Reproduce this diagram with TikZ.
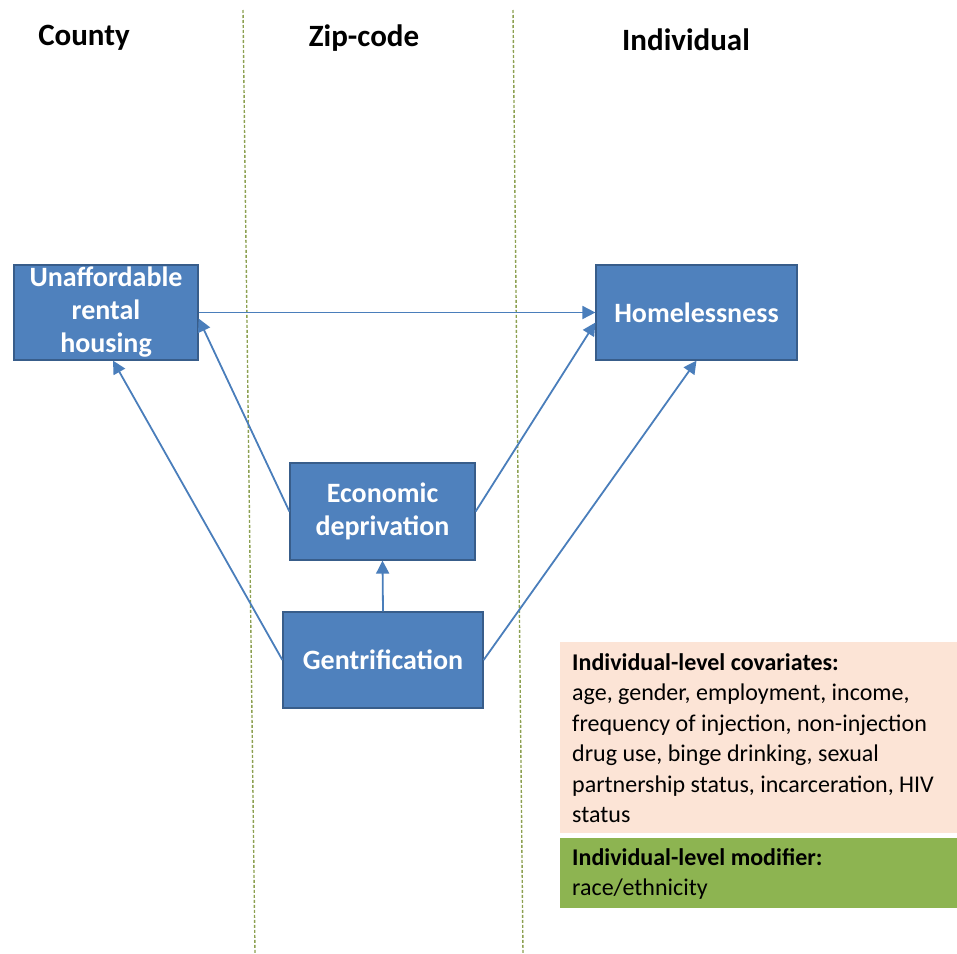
\documentclass[tikz,border=0pt]{standalone}
\usepackage{fontspec}
\setmainfont{Carlito}
\usetikzlibrary{arrows.meta}
\definecolor{boxblue}{RGB}{79,129,189}
\definecolor{boxedge}{RGB}{56,93,138}
\definecolor{arrowblue}{RGB}{74,126,187}
\definecolor{peach}{RGB}{252,228,214}
\definecolor{leaf}{RGB}{141,180,81}
\definecolor{divider}{RGB}{140,160,80}
\tikzset{
  bluebox/.style={draw=boxedge, line width=1.2pt, fill=boxblue, text=white,
    font=\fontsize{28}{33}\selectfont\bfseries, align=center, inner sep=0pt},
  header/.style={font=\fontsize{31}{34}\selectfont\bfseries, text=black},
  link/.style={draw=arrowblue, line width=1.8pt, -{Triangle[length=13pt,width=13pt]}},
  divline/.style={draw=divider, line width=1.4pt, dash pattern=on 3pt off 2pt},
  notebox/.style={inner sep=0pt, align=left, font=\fontsize{24}{30.5}\selectfont}
}
\begin{document}
\begin{tikzpicture}[x=1pt,y=-1pt]
\useasboundingbox (0,0) rectangle (957,953);
% dividers
\coordinate (d1t) at (243,10);
\coordinate (d1b) at (255,953);
\coordinate (d2t) at (513,10);
\coordinate (d2b) at (523,953);
\draw[divline] (d1t) -- (d1b);
\draw[divline] (d2t) -- (d2b);
% headers
\node[header] (county) at (84,38) {County};
\node[header] (zip) at (364,38) {Zip-code};
\node[header] (indiv) at (686,40) {Individual};
% boxes
\node[bluebox, minimum width=184pt, minimum height=95pt] (u) at (106,312.5) {Unaffordable\\rental\\housing};
\node[bluebox, minimum width=201pt, minimum height=95pt] (h) at (696.5,312.5) {Homelessness};
\node[bluebox, minimum width=185pt, minimum height=97pt] (e) at (382.5,511.5) {Economic\\deprivation};
\node[bluebox, minimum width=200pt, minimum height=96pt] (g) at (383,660) {Gentrification};
% notes
\fill[peach] (560,642) rectangle (957,833);
\fill[leaf] (560,838) rectangle (957,908);
\node[notebox, anchor=north west] (cov) at (572,653)
  {\textbf{Individual-level covariates:}\\age, gender, employment, income,\\frequency of injection, non-injection\\drug use, binge drinking, sexual\\partnership status, incarceration, HIV\\status};
\node[notebox, anchor=north west] (mod) at (572,848)
  {\textbf{Individual-level modifier:}\\race/ethnicity};
% arrows
\draw[link] (u.east) -- (h.west);
\draw[link] (e.west) -- ([yshift=-6pt]u.east);
\draw[link] (g.west) -- ([xshift=7pt]u.south);
\draw[link] (e.east) -- ([yshift=-10pt]h.west);
\draw[link] (g.east) -- (h.south);
\draw[link] (g.north) -- (e.south);
\end{tikzpicture}
\end{document}
